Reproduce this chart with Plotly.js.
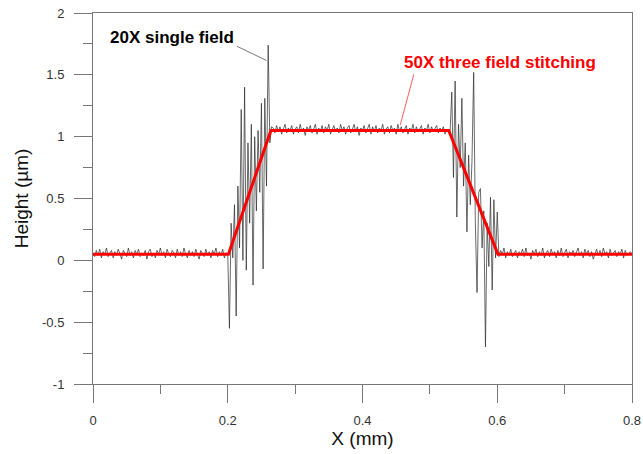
<!DOCTYPE html>
<html>
<head>
<meta charset="utf-8">
<script src="https://cdn.plot.ly/plotly-3.0.1.min.js"></script>
<style>html,body{margin:0;padding:0;background:#fff;}#chart{width:643px;height:454px;}</style>
</head>
<body>
<div id="chart"></div>
<script>
// 20X single field: left baseline
const leftBaseX = [0,0.0025,0.005,0.0075,0.01,0.0125,0.015,0.0175,0.02,0.0225,0.025,0.0275,0.03,0.0325,0.035,0.0375,0.04,0.0425,0.045,0.0475,0.05,0.0525,0.055,0.0575,0.06,0.0625,0.065,0.0675,0.07,0.0725,0.075,0.0775,0.08,0.0825,0.085,0.0875,0.09,0.0925,0.095,0.0975,0.1,0.1025,0.105,0.1075,0.11,0.1125,0.115,0.1175,0.12,0.1225,0.125,0.1275,0.13,0.1325,0.135,0.1375,0.14,0.1425,0.145,0.1475,0.15,0.1525,0.155,0.1575,0.16,0.1625,0.165,0.1675,0.17,0.1725,0.175,0.1775,0.18,0.1825,0.185,0.1875,0.19,0.1925,0.195,0.1975,0.2];
const leftBaseY = [0.06,0.03,0.08,0.04,0.09,0.02,0.07,0.05,0.10,0.03,0.06,0.08,0.02,0.07,0.04,0.09,0.05,0.01,0.08,0.06,0.03,0.10,0.04,0.07,0.02,0.08,0.05,0.09,0.03,0.06,0.04,0.08,0.01,0.07,0.09,0.03,0.06,0.02,0.08,0.05,0.10,0.04,0.07,0.02,0.09,0.05,0.03,0.08,0.06,0.02,0.09,0.04,0.07,0.03,0.10,0.05,0.02,0.08,0.04,0.07,0.03,0.09,0.05,0.01,0.08,0.06,0.03,0.09,0.04,0.07,0.02,0.08,0.05,0.10,0.03,0.07,0.04,0.09,0.02,0.06,0.05];
// left edge (rising)
const riseX = [0.2025,0.205,0.2075,0.21,0.2125,0.215,0.2175,0.22,0.2225,0.225,0.2275,0.23,0.2325,0.235,0.2375,0.24,0.2425,0.245,0.2475,0.25,0.2525,0.255,0.2575,0.26,0.2625,0.265];
const riseY = [-0.55,0.30,0.02,0.45,-0.45,0.60,0.10,1.22,0.00,1.40,-0.08,0.95,0.30,1.10,-0.20,1.00,0.40,1.05,0.55,1.27,-0.07,1.31,0.60,1.74,0.95,1.08];
// plateau
const topX = [0.2675,0.27,0.2725,0.275,0.2775,0.28,0.2825,0.285,0.2875,0.29,0.2925,0.295,0.2975,0.3,0.3025,0.305,0.3075,0.31,0.3125,0.315,0.3175,0.32,0.3225,0.325,0.3275,0.33,0.3325,0.335,0.3375,0.34,0.3425,0.345,0.3475,0.35,0.3525,0.355,0.3575,0.36,0.3625,0.365,0.3675,0.37,0.3725,0.375,0.3775,0.38,0.3825,0.385,0.3875,0.39,0.3925,0.395,0.3975,0.4,0.4025,0.405,0.4075,0.41,0.4125,0.415,0.4175,0.42,0.4225,0.425,0.4275,0.43,0.4325,0.435,0.4375,0.44,0.4425,0.445,0.4475,0.45,0.4525,0.455,0.4575,0.46,0.4625,0.465,0.4675,0.47,0.4725,0.475,0.4775,0.48,0.4825,0.485,0.4875,0.49,0.4925,0.495,0.4975,0.5,0.5025,0.505,0.5075,0.51,0.5125,0.515,0.5175,0.52,0.5225,0.525,0.5275];
const topY = [1.07,1.03,1.09,1.04,1.08,1.02,1.06,1.10,1.03,1.07,1.05,1.09,1.02,1.06,1.08,1.03,1.10,1.04,1.07,1.01,1.08,1.05,1.09,1.03,1.06,1.10,1.02,1.07,1.04,1.09,1.03,1.08,1.05,1.10,1.02,1.06,1.09,1.04,1.07,1.03,1.10,1.05,1.08,1.02,1.07,1.09,1.03,1.06,1.10,1.04,1.08,1.01,1.07,1.05,1.09,1.03,1.06,1.10,1.02,1.08,1.04,1.09,1.03,1.07,1.05,1.10,1.02,1.06,1.08,1.03,1.09,1.05,1.07,1.02,1.10,1.04,1.08,1.03,1.06,1.09,1.02,1.07,1.05,1.10,1.03,1.08,1.04,1.06,1.09,1.02,1.07,1.05,1.10,1.03,1.08,1.04,1.06,1.09,1.03,1.07,1.05,1.08,1.02,1.06,1.04];
// right edge (falling)
const fallX = [0.53,0.5325,0.535,0.5375,0.54,0.5425,0.545,0.5475,0.55,0.5525,0.555,0.5575,0.56,0.5625,0.565,0.5675,0.57,0.5725,0.575,0.5775,0.58,0.5825,0.585,0.5875,0.59,0.5925,0.595,0.5975,0.6];
const fallY = [1.04,1.36,0.67,1.45,0.35,1.10,0.75,1.31,0.60,0.95,0.23,0.85,0.45,0.80,1.52,0.30,-0.26,0.55,0.58,0.10,0.40,-0.70,0.30,-0.05,0.51,-0.24,0.49,0.02,0.39];
// right baseline
const rightBaseX = [0.6025,0.605,0.6075,0.61,0.6125,0.615,0.6175,0.62,0.6225,0.625,0.6275,0.63,0.6325,0.635,0.6375,0.64,0.6425,0.645,0.6475,0.65,0.6525,0.655,0.6575,0.66,0.6625,0.665,0.6675,0.67,0.6725,0.675,0.6775,0.68,0.6825,0.685,0.6875,0.69,0.6925,0.695,0.6975,0.7,0.7025,0.705,0.7075,0.71,0.7125,0.715,0.7175,0.72,0.7225,0.725,0.7275,0.73,0.7325,0.735,0.7375,0.74,0.7425,0.745,0.7475,0.75,0.7525,0.755,0.7575,0.76,0.7625,0.765,0.7675,0.77,0.7725,0.775,0.7775,0.78,0.7825,0.785,0.7875,0.79,0.7925,0.795,0.7975,0.8];
const rightBaseY = [0.03,0.08,0.05,0.10,0.02,0.07,0.04,0.09,0.03,0.06,0.08,0.02,0.07,0.05,0.09,0.03,0.10,0.04,0.06,0.01,0.08,0.05,0.09,0.03,0.07,0.04,0.10,0.02,0.06,0.08,0.03,0.09,0.05,0.07,0.02,0.08,0.04,0.10,0.03,0.06,0.09,0.02,0.07,0.05,0.08,0.03,0.06,0.10,0.04,0.07,0.02,0.09,0.05,0.08,0.03,0.07,0.01,0.06,0.09,0.04,0.08,0.03,0.10,0.05,0.07,0.02,0.09,0.04,0.06,0.08,0.03,0.07,0.05,0.09,0.02,0.08,0.04,0.06,0.07,0.05];

// 50X three field stitching
const stitchX = [0,0.201,0.264,0.528,0.601,0.8];
const stitchY = [0.05,0.05,1.05,1.05,0.05,0.05];

const xTickVals = [0,0.2,0.4,0.6,0.8];
const xTickText = ['0','0.2','0.4','0.6','0.8'];
const yTickVals = [-1,-0.5,0,0.5,1,1.5,2];
const yTickText = ['-1','-0.5','0','0.5','1','1.5','2'];

const singleX = [].concat(leftBaseX, riseX, topX, fallX, rightBaseX);
const singleY = [].concat(leftBaseY, riseY, topY, fallY, rightBaseY);

const FONT = 'Liberation Sans, Arial, sans-serif';
const AX = '#777777';

const traces = [
  {x: singleX, y: singleY, type: 'scatter', mode: 'lines', name: '20X single field',
   line: {color: '#2a2a2a', width: 0.7}},
  {x: stitchX, y: stitchY, type: 'scatter', mode: 'lines', name: '50X three field stitching',
   line: {color: '#ff0000', width: 3}}
];

const axisCommon = {
  showgrid: false, zeroline: false, showline: true, mirror: true,
  linecolor: AX, linewidth: 1, ticks: 'outside', ticklen: 18, tickwidth: 1, tickcolor: AX,
  tickfont: {family: FONT, size: 13, color: '#333333'},
  automargin: false
};

const layout = {
  width: 643, height: 454,
  margin: {l: 93, r: 11, t: 13, b: 70},
  paper_bgcolor: '#ffffff', plot_bgcolor: '#ffffff',
  showlegend: false,
  font: {family: FONT},
  xaxis: Object.assign({}, axisCommon, {
    range: [0, 0.8], tickmode: 'array', tickvals: xTickVals, ticktext: xTickText,
    ticklabelstandoff: 6,
    minor: {dtick: 0.1, ticks: 'outside', ticklen: 9, tickcolor: AX, tickwidth: 1, showgrid: false},
    title: {text: 'X (mm)', font: {family: FONT, size: 19, color: '#111'}, standoff: 4}
  }),
  yaxis: Object.assign({}, axisCommon, {
    range: [-1, 2], tickmode: 'array', tickvals: yTickVals, ticktext: yTickText,
    ticklabelstandoff: 7,
    minor: {dtick: 0.25, ticks: 'outside', ticklen: 9, tickcolor: AX, tickwidth: 1, showgrid: false},
    title: {text: 'Height (\u00b5m)', font: {family: FONT, size: 19, color: '#111'}, standoff: 8}
  }),
  annotations: [
    {x: 0.1168, y: 1.80, xref: 'x', yref: 'y', text: '<b>20X single field</b>', showarrow: false,
     font: {family: FONT, size: 17, color: '#000'}},
    {x: 0.6036, y: 1.597, xref: 'x', yref: 'y', text: '<b>50X three field stitching</b>', showarrow: false,
     font: {family: FONT, size: 17, color: '#ff0000'}},
    {x: 0.2574, y: 1.616, xref: 'x', yref: 'y', text: '', showarrow: true, arrowhead: 0,
     arrowwidth: 0.8, arrowcolor: '#555', ax: -31, ay: -15, standoff: 0},
    {x: 0.456, y: 1.095, xref: 'x', yref: 'y', text: '', showarrow: true, arrowhead: 0,
     arrowwidth: 0.8, arrowcolor: '#ff3333', ax: 14, ay: -52, standoff: 0}
  ]
};

Plotly.newPlot('chart', traces, layout, {staticPlot: true, displayModeBar: false});
</script>
</body>
</html>
